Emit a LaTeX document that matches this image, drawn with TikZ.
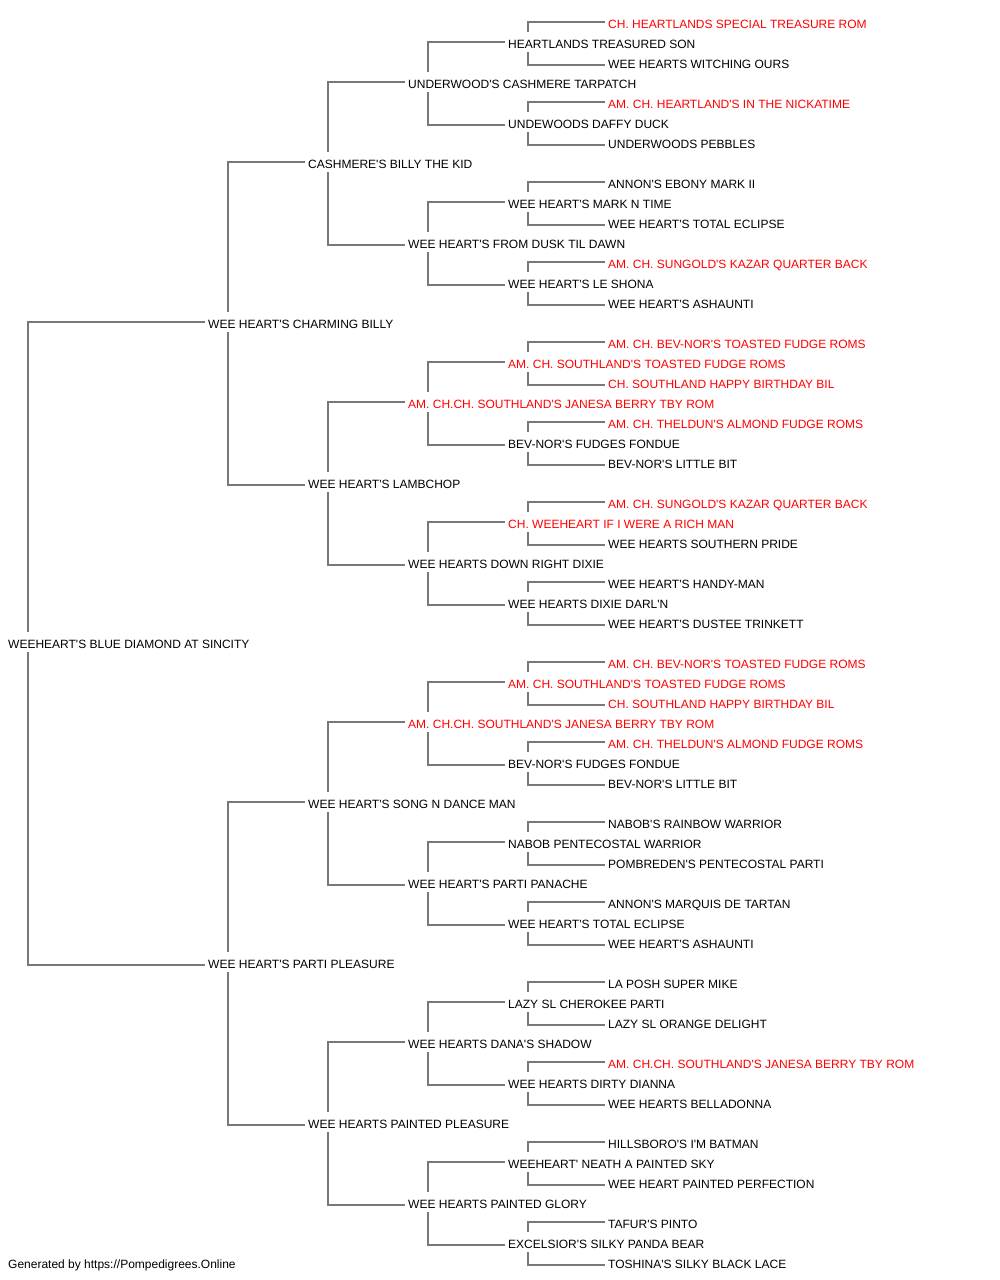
\documentclass[tikz,border=0pt]{standalone}
\usepackage{fontspec}
\setmainfont{Liberation Sans}[Ligatures=TeXOff]

\tikzset{
	dog/.style={anchor=west, inner xsep=3pt, inner ysep=3.7pt, text height=12.6pt, text depth=0pt, font=\fontsize{12}{14}\selectfont, text=black},
	champ/.style={dog, text=champred},
	link/.style={draw=linegray, line width=1.5pt},
}
\definecolor{champred}{RGB}{255,0,0}
\definecolor{linegray}{RGB}{120,120,120}

\begin{document}
\begin{tikzpicture}[x=1pt, y=-1pt]
	\useasboundingbox (0,0) rectangle (1000,1280);

	% generation 0
	\node[dog] (n1) at (5,642) {WEEHEART'S BLUE DIAMOND AT SINCITY};

	% generation 1
	\node[dog] (n2) at (205,322) {WEE HEART'S CHARMING BILLY};
	\node[dog] (n3) at (205,962) {WEE HEART'S PARTI PLEASURE};

	% generation 2
	\node[dog] (n4) at (305,162) {CASHMERE'S BILLY THE KID};
	\node[dog] (n5) at (305,482) {WEE HEART'S LAMBCHOP};
	\node[dog] (n6) at (305,802) {WEE HEART'S SONG N DANCE MAN};
	\node[dog] (n7) at (305,1122) {WEE HEARTS PAINTED PLEASURE};

	% generation 3
	\node[dog] (n8) at (405,82) {UNDERWOOD'S CASHMERE TARPATCH};
	\node[dog] (n9) at (405,242) {WEE HEART'S FROM DUSK TIL DAWN};
	\node[champ] (n10) at (405,402) {AM. CH.CH. SOUTHLAND'S JANESA BERRY TBY ROM};
	\node[dog] (n11) at (405,562) {WEE HEARTS DOWN RIGHT DIXIE};
	\node[champ] (n12) at (405,722) {AM. CH.CH. SOUTHLAND'S JANESA BERRY TBY ROM};
	\node[dog] (n13) at (405,882) {WEE HEART'S PARTI PANACHE};
	\node[dog] (n14) at (405,1042) {WEE HEARTS DANA'S SHADOW};
	\node[dog] (n15) at (405,1202) {WEE HEARTS PAINTED GLORY};

	% generation 4
	\node[dog] (n16) at (505,42) {HEARTLANDS TREASURED SON};
	\node[dog] (n17) at (505,122) {UNDEWOODS DAFFY DUCK};
	\node[dog] (n18) at (505,202) {WEE HEART'S MARK N TIME};
	\node[dog] (n19) at (505,282) {WEE HEART'S LE SHONA};
	\node[champ] (n20) at (505,362) {AM. CH. SOUTHLAND'S TOASTED FUDGE ROMS};
	\node[dog] (n21) at (505,442) {BEV-NOR'S FUDGES FONDUE};
	\node[champ] (n22) at (505,522) {CH. WEEHEART IF I WERE A RICH MAN};
	\node[dog] (n23) at (505,602) {WEE HEARTS DIXIE DARL'N};
	\node[champ] (n24) at (505,682) {AM. CH. SOUTHLAND'S TOASTED FUDGE ROMS};
	\node[dog] (n25) at (505,762) {BEV-NOR'S FUDGES FONDUE};
	\node[dog] (n26) at (505,842) {NABOB PENTECOSTAL WARRIOR};
	\node[dog] (n27) at (505,922) {WEE HEART'S TOTAL ECLIPSE};
	\node[dog] (n28) at (505,1002) {LAZY SL CHEROKEE PARTI};
	\node[dog] (n29) at (505,1082) {WEE HEARTS DIRTY DIANNA};
	\node[dog] (n30) at (505,1162) {WEEHEART' NEATH A PAINTED SKY};
	\node[dog] (n31) at (505,1242) {EXCELSIOR'S SILKY PANDA BEAR};

	% generation 5
	\node[champ] (n32) at (605,22) {CH. HEARTLANDS SPECIAL TREASURE ROM};
	\node[dog] (n33) at (605,62) {WEE HEARTS WITCHING OURS};
	\node[champ] (n34) at (605,102) {AM. CH. HEARTLAND'S IN THE NICKATIME};
	\node[dog] (n35) at (605,142) {UNDERWOODS PEBBLES};
	\node[dog] (n36) at (605,182) {ANNON'S EBONY MARK II};
	\node[dog] (n37) at (605,222) {WEE HEART'S TOTAL ECLIPSE};
	\node[champ] (n38) at (605,262) {AM. CH. SUNGOLD'S KAZAR QUARTER BACK};
	\node[dog] (n39) at (605,302) {WEE HEART'S ASHAUNTI};
	\node[champ] (n40) at (605,342) {AM. CH. BEV-NOR'S TOASTED FUDGE ROMS};
	\node[champ] (n41) at (605,382) {CH. SOUTHLAND HAPPY BIRTHDAY BIL};
	\node[champ] (n42) at (605,422) {AM. CH. THELDUN'S ALMOND FUDGE ROMS};
	\node[dog] (n43) at (605,462) {BEV-NOR'S LITTLE BIT};
	\node[champ] (n44) at (605,502) {AM. CH. SUNGOLD'S KAZAR QUARTER BACK};
	\node[dog] (n45) at (605,542) {WEE HEARTS SOUTHERN PRIDE};
	\node[dog] (n46) at (605,582) {WEE HEART'S HANDY-MAN};
	\node[dog] (n47) at (605,622) {WEE HEART'S DUSTEE TRINKETT};
	\node[champ] (n48) at (605,662) {AM. CH. BEV-NOR'S TOASTED FUDGE ROMS};
	\node[champ] (n49) at (605,702) {CH. SOUTHLAND HAPPY BIRTHDAY BIL};
	\node[champ] (n50) at (605,742) {AM. CH. THELDUN'S ALMOND FUDGE ROMS};
	\node[dog] (n51) at (605,782) {BEV-NOR'S LITTLE BIT};
	\node[dog] (n52) at (605,822) {NABOB'S RAINBOW WARRIOR};
	\node[dog] (n53) at (605,862) {POMBREDEN'S PENTECOSTAL PARTI};
	\node[dog] (n54) at (605,902) {ANNON'S MARQUIS DE TARTAN};
	\node[dog] (n55) at (605,942) {WEE HEART'S ASHAUNTI};
	\node[dog] (n56) at (605,982) {LA POSH SUPER MIKE};
	\node[dog] (n57) at (605,1022) {LAZY SL ORANGE DELIGHT};
	\node[champ] (n58) at (605,1062) {AM. CH.CH. SOUTHLAND'S JANESA BERRY TBY ROM};
	\node[dog] (n59) at (605,1102) {WEE HEARTS BELLADONNA};
	\node[dog] (n60) at (605,1142) {HILLSBORO'S I'M BATMAN};
	\node[dog] (n61) at (605,1182) {WEE HEART PAINTED PERFECTION};
	\node[dog] (n62) at (605,1222) {TAFUR'S PINTO};
	\node[dog] (n63) at (605,1262) {TOSHINA'S SILKY BLACK LACE};

	\node[dog] (credit) at (5,1262) {Generated by https://Pompedigrees.Online};

	% sire up, dam down
	\draw[link] (n2.west) -| ([xshift=23pt]n1.north west) ([xshift=23pt]n1.south west) |- ([yshift=-3pt]n3.west);

	\draw[link] (n4.west) -| ([xshift=23pt]n2.north west) ([xshift=23pt]n2.south west) |- ([yshift=-3pt]n5.west);
	\draw[link] (n6.west) -| ([xshift=23pt]n3.north west) ([xshift=23pt]n3.south west) |- ([yshift=-3pt]n7.west);

	\draw[link] (n8.west) -| ([xshift=23pt]n4.north west) ([xshift=23pt]n4.south west) |- ([yshift=-3pt]n9.west);
	\draw[link] (n10.west) -| ([xshift=23pt]n5.north west) ([xshift=23pt]n5.south west) |- ([yshift=-3pt]n11.west);
	\draw[link] (n12.west) -| ([xshift=23pt]n6.north west) ([xshift=23pt]n6.south west) |- ([yshift=-3pt]n13.west);
	\draw[link] (n14.west) -| ([xshift=23pt]n7.north west) ([xshift=23pt]n7.south west) |- ([yshift=-3pt]n15.west);

	\draw[link] (n16.west) -| ([xshift=23pt]n8.north west) ([xshift=23pt]n8.south west) |- ([yshift=-3pt]n17.west);
	\draw[link] (n18.west) -| ([xshift=23pt]n9.north west) ([xshift=23pt]n9.south west) |- ([yshift=-3pt]n19.west);
	\draw[link] (n20.west) -| ([xshift=23pt]n10.north west) ([xshift=23pt]n10.south west) |- ([yshift=-3pt]n21.west);
	\draw[link] (n22.west) -| ([xshift=23pt]n11.north west) ([xshift=23pt]n11.south west) |- ([yshift=-3pt]n23.west);
	\draw[link] (n24.west) -| ([xshift=23pt]n12.north west) ([xshift=23pt]n12.south west) |- ([yshift=-3pt]n25.west);
	\draw[link] (n26.west) -| ([xshift=23pt]n13.north west) ([xshift=23pt]n13.south west) |- ([yshift=-3pt]n27.west);
	\draw[link] (n28.west) -| ([xshift=23pt]n14.north west) ([xshift=23pt]n14.south west) |- ([yshift=-3pt]n29.west);
	\draw[link] (n30.west) -| ([xshift=23pt]n15.north west) ([xshift=23pt]n15.south west) |- ([yshift=-3pt]n31.west);

	\draw[link] (n32.west) -| ([xshift=23pt]n16.north west) ([xshift=23pt]n16.south west) |- ([yshift=-3pt]n33.west);
	\draw[link] (n34.west) -| ([xshift=23pt]n17.north west) ([xshift=23pt]n17.south west) |- ([yshift=-3pt]n35.west);
	\draw[link] (n36.west) -| ([xshift=23pt]n18.north west) ([xshift=23pt]n18.south west) |- ([yshift=-3pt]n37.west);
	\draw[link] (n38.west) -| ([xshift=23pt]n19.north west) ([xshift=23pt]n19.south west) |- ([yshift=-3pt]n39.west);
	\draw[link] (n40.west) -| ([xshift=23pt]n20.north west) ([xshift=23pt]n20.south west) |- ([yshift=-3pt]n41.west);
	\draw[link] (n42.west) -| ([xshift=23pt]n21.north west) ([xshift=23pt]n21.south west) |- ([yshift=-3pt]n43.west);
	\draw[link] (n44.west) -| ([xshift=23pt]n22.north west) ([xshift=23pt]n22.south west) |- ([yshift=-3pt]n45.west);
	\draw[link] (n46.west) -| ([xshift=23pt]n23.north west) ([xshift=23pt]n23.south west) |- ([yshift=-3pt]n47.west);
	\draw[link] (n48.west) -| ([xshift=23pt]n24.north west) ([xshift=23pt]n24.south west) |- ([yshift=-3pt]n49.west);
	\draw[link] (n50.west) -| ([xshift=23pt]n25.north west) ([xshift=23pt]n25.south west) |- ([yshift=-3pt]n51.west);
	\draw[link] (n52.west) -| ([xshift=23pt]n26.north west) ([xshift=23pt]n26.south west) |- ([yshift=-3pt]n53.west);
	\draw[link] (n54.west) -| ([xshift=23pt]n27.north west) ([xshift=23pt]n27.south west) |- ([yshift=-3pt]n55.west);
	\draw[link] (n56.west) -| ([xshift=23pt]n28.north west) ([xshift=23pt]n28.south west) |- ([yshift=-3pt]n57.west);
	\draw[link] (n58.west) -| ([xshift=23pt]n29.north west) ([xshift=23pt]n29.south west) |- ([yshift=-3pt]n59.west);
	\draw[link] (n60.west) -| ([xshift=23pt]n30.north west) ([xshift=23pt]n30.south west) |- ([yshift=-3pt]n61.west);
	\draw[link] (n62.west) -| ([xshift=23pt]n31.north west) ([xshift=23pt]n31.south west) |- ([yshift=-3pt]n63.west);

\end{tikzpicture}
\end{document}
